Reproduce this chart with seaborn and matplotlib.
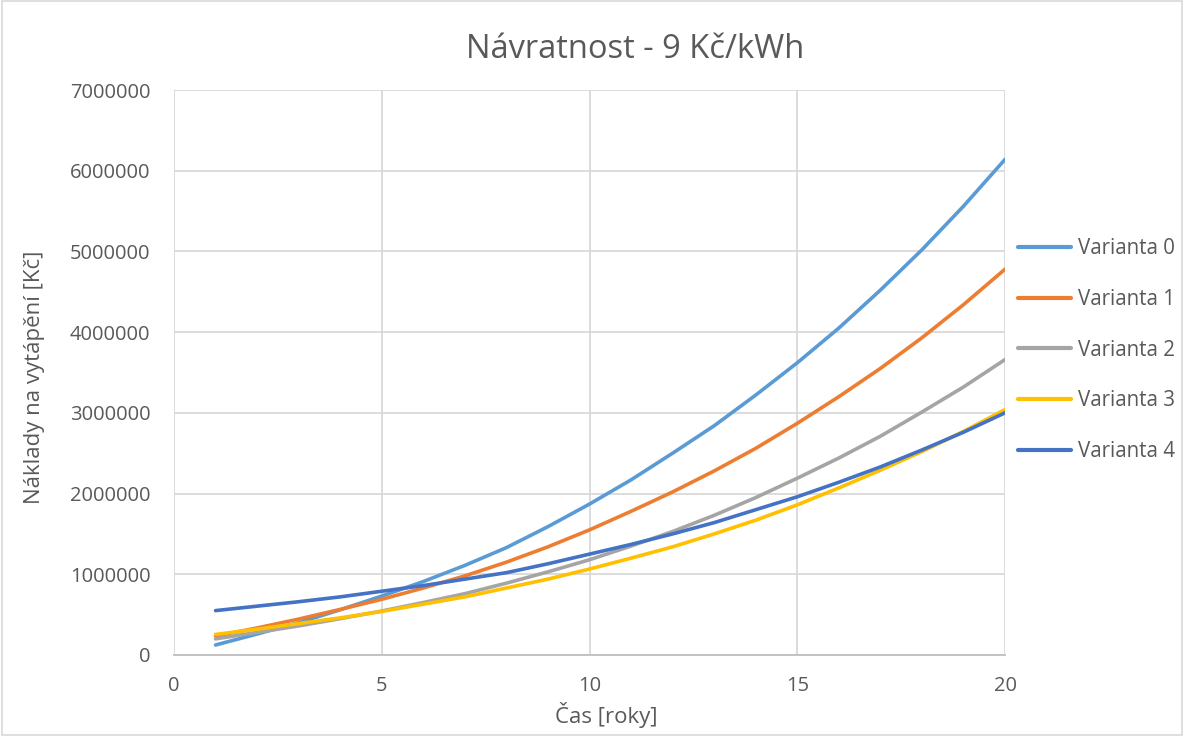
import numpy as np
import pandas as pd
import matplotlib
matplotlib.use("Agg")
import matplotlib.pyplot as plt
import seaborn as sns

years = list(range(1, 21))
varianta_0 = [0.124, 0.26, 0.40, 0.56, 0.73, 0.91, 1.11, 1.33, 1.59, 1.87,
              2.17, 2.50, 2.84, 3.22, 3.62, 4.05, 4.52, 5.02, 5.56, 6.14]
varianta_1 = [0.235, 0.335, 0.445, 0.565, 0.69, 0.83, 0.98, 1.15, 1.34, 1.55,
              1.78, 2.02, 2.28, 2.56, 2.87, 3.20, 3.55, 3.93, 4.34, 4.78]
varianta_2 = [0.20, 0.28, 0.36, 0.45, 0.545, 0.65, 0.76, 0.89, 1.03, 1.18,
              1.35, 1.53, 1.73, 1.95, 2.19, 2.44, 2.71, 3.01, 3.32, 3.66]
varianta_3 = [0.255, 0.32, 0.39, 0.46, 0.54, 0.63, 0.72, 0.83, 0.94, 1.065,
              1.20, 1.34, 1.50, 1.67, 1.86, 2.07, 2.29, 2.52, 2.77, 3.04]
varianta_4 = [0.55, 0.605, 0.66, 0.72, 0.79, 0.86, 0.94, 1.02, 1.13, 1.25,
              1.37, 1.50, 1.64, 1.80, 1.96, 2.14, 2.33, 2.54, 2.76, 3.00]
series_names = ["Varianta 0", "Varianta 1", "Varianta 2", "Varianta 3", "Varianta 4"]
series_values = [varianta_0, varianta_1, varianta_2, varianta_3, varianta_4]
colors = ["#5B9BD5", "#ED7D31", "#A5A5A5", "#FFC000", "#4472C4"]
x_ticks = [0, 5, 10, 15, 20]
y_ticks = list(range(0, 7000001, 1000000))

rows = []
for name, vals in zip(series_names, series_values):
    for yr, v in zip(years, vals):
        rows.append({"Čas [roky]": yr, "Náklady": v * 1e6, "Varianta": name})
df = pd.DataFrame(rows)

sns.set_theme(style="white")
plt.rcParams['font.family'] = ['Open Sans', 'DejaVu Sans']
text_color = "#595959"

W, H = 1184, 736
fig = plt.figure(figsize=(W / 100, H / 100), dpi=100)
ax = fig.add_axes([174 / W, 1 - 655 / H, (1005 - 174) / W, (655 - 90) / H])

sns.lineplot(data=df, x="Čas [roky]", y="Náklady", hue="Varianta",
             palette=colors, linewidth=2.6, ax=ax, legend=True)

ax.set_xlim(0, 20)
ax.set_ylim(0, 7000000)
ax.set_xticks(x_ticks)
ax.set_yticks(y_ticks)
ax.set_yticklabels([str(v) for v in y_ticks])
ax.grid(True, color="#D9D9D9", linewidth=1.3)
ax.set_axisbelow(True)
for s in ["top", "right", "left"]:
    ax.spines[s].set_visible(False)
ax.spines["bottom"].set_color("#BFBFBF")
ax.spines["bottom"].set_linewidth(1.3)
ax.tick_params(axis="both", length=0, labelsize=14.5, colors=text_color)
ax.tick_params(axis="y", pad=17)
ax.tick_params(axis="x", pad=15)

ax.set_xlabel("Čas [roky]", fontsize=16, color=text_color)
ax.set_ylabel("Náklady na vytápění [Kč]", fontsize=16, color=text_color)
# place axis labels (axes fraction coordinates)
ax.xaxis.set_label_coords((606 - 174) / (1005 - 174), -(715 - 655) / (655 - 90))
ax.yaxis.set_label_coords(-(174 - 35) / (1005 - 174), (655 - 377) / (655 - 90))
ax.xaxis.label.set_va("center")
ax.yaxis.label.set_va("center")

fig.text(635 / W, 1 - 50 / H, "Návratnost - 9 Kč/kWh", ha="center", va="center",
         fontsize=23.5, color=text_color)

leg = ax.legend(loc="center left", bbox_to_anchor=(1018 / W, 1 - 350 / H),
                bbox_transform=fig.transFigure, frameon=False, borderpad=0,
                borderaxespad=0, fontsize=14.8, labelcolor=text_color,
                handlelength=2.6, labelspacing=1.45, handletextpad=0.3)
for line in leg.get_lines():
    line.set_linewidth(3)

# chart border
fig.add_artist(plt.Rectangle((0.002, 0.002), 0.996, 0.996, transform=fig.transFigure,
                             fill=False, edgecolor="#D9D9D9", linewidth=1.2))

fig.savefig("out.png", dpi=100)
